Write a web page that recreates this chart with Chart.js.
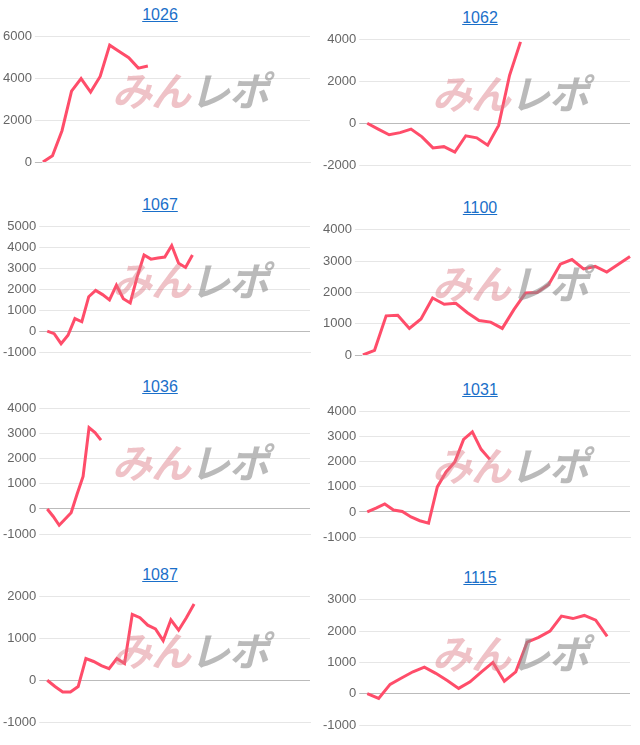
<!DOCTYPE html>
<html>
<head>
<meta charset="utf-8">
<script src="https://cdn.jsdelivr.net/npm/chart.js@4"></script>
<style>
  body { margin: 0; background: #fff; font-family: "Liberation Sans", Arial, sans-serif; }
  .panel { position: absolute; width: 320px; height: 185px; }
  .panel a { position: absolute; top: 6px; left: 0; width: 100%; text-align: center; color: #1a6fc9; font-size: 16px; text-decoration: underline; }
  .panel .cv { position: absolute; top: 26px; left: 0; width: 320px; height: 156px; }
  .wm { position: absolute; top: 60px; left: 112px; font-size: 40px; font-weight: bold; font-style: italic; letter-spacing: -1px; font-family: "Noto Sans CJK JP", sans-serif; pointer-events: none; }
  .wm .a { color: rgba(220, 120, 130, 0.45); }
  .wm .b { color: rgba(140, 140, 140, 0.6); }
</style>
</head>
<body>
<script>
const titles = ["1026", "1062", "1067", "1100", "1036", "1031", "1087", "1115"];
const labelCounts = [29, 25, 39, 24, 45, 31, 35, 24];
const yMin = [0, -2000, -1000, 0, -1000, -1000, -1000, -1000];
const yMax = [6000, 4000, 5000, 4000, 4000, 4000, 2000, 3000];
const ySteps = [2000, 2000, 1000, 1000, 1000, 1000, 1000, 1000];

const s1026 = [0, 300, 1500, 3400, 4000, 3350, 4100, 5600, 5300, 5000, 4500, 4600];
const s1062 = [0, -280, -550, -450, -280, -650, -1180, -1120, -1380, -600, -700, -1050, -100, 2300, 3900];
const s1067 = [0, -120, -600, -200, 600, 450, 1650, 1950, 1750, 1500, 2200, 1550, 1350, 2600, 3650, 3450, 3500, 3550, 4100, 3250, 3050, 3650];
const s1100 = [0, 150, 1250, 1270, 850, 1150, 1820, 1620, 1650, 1350, 1100, 1050, 850, 1450, 1980, 2000, 2250, 2900, 3050, 2750, 2830, 2650, 2900, 3150];
const s1036 = [0, -300, -650, -400, -150, 600, 1300, 3250, 3050, 2750];
const s1031 = [0, 150, 320, 80, 20, -200, -350, -450, 1000, 1600, 2000, 2900, 3200, 2500, 2100];
const s1087 = [0, -150, -280, -280, -150, 520, 450, 350, 280, 520, 400, 1580, 1500, 1320, 1230, 950, 1450, 1200, 1500, 1830];
const s1115 = [0, -150, 300, 500, 700, 850, 650, 420, 170, 380, 700, 1000, 400, 700, 1650, 1800, 2000, 2480, 2400, 2500, 2350, 1830];
const series = [s1026, s1062, s1067, s1100, s1036, s1031, s1087, s1115];

const panelTops = [0, 190, 372, 560];

titles.forEach((t, i) => {
  const p = document.createElement("div");
  p.className = "panel";
  p.style.left = (i % 2) * 320 + "px";
  p.style.top = (panelTops[Math.floor(i / 2)] + (i % 2 ? 3 : 0)) + "px";
  p.innerHTML = '<a href="#">' + t + '</a><div class="cv"><canvas></canvas></div>' +
    '<div class="wm"><span class="a">みん</span><span class="b">レポ</span></div>';
  document.body.appendChild(p);

  const labels = [];
  for (let k = 0; k < labelCounts[i]; k++) labels.push(k + 1);

  new Chart(p.querySelector("canvas"), {
    type: "line",
    data: {
      labels: labels,
      datasets: [{
        data: series[i],
        borderColor: "rgb(255, 77, 106)",
        borderWidth: 3,
        pointRadius: 0,
        tension: 0,
        fill: false,
      }],
    },
    options: {
      responsive: true,
      maintainAspectRatio: false,
      animation: false,
      layout: { padding: { left: 0, right: 10, top: 2, bottom: 12 } },
      plugins: { legend: { display: false }, tooltip: { enabled: false } },
      scales: {
        x: { ticks: { display: false }, grid: { display: false }, border: { color: "#e6e6e6" } },
        y: {
          min: yMin[i],
          max: yMax[i],
          ticks: { stepSize: ySteps[i], color: "#666", font: { size: 13 }, callback: (v) => String(v) },
          grid: { color: (c) => c.tick && c.tick.value === 0 ? "#bbb" : "#e6e6e6" },
          border: { display: false },
        },
      },
    },
  });
});
</script>
</body>
</html>
